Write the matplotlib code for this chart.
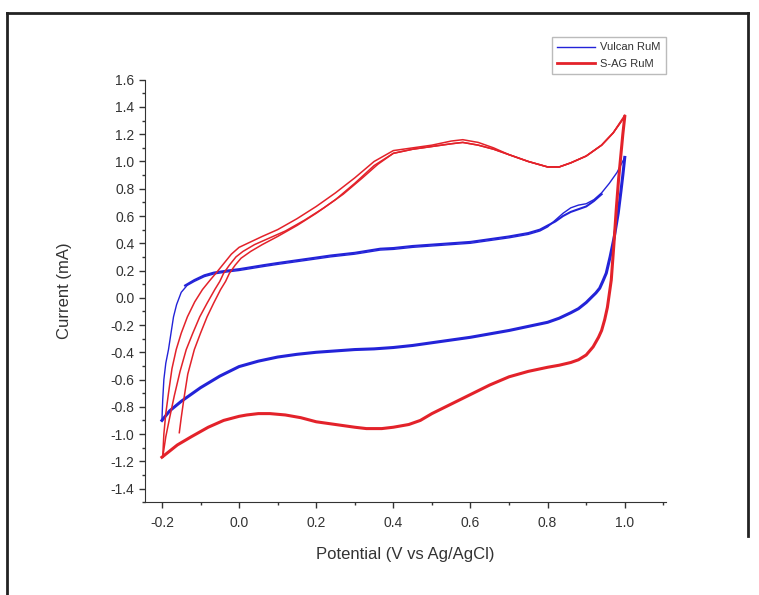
import matplotlib.pyplot as plt
from matplotlib.lines import Line2D
from matplotlib.ticker import MultipleLocator

plt.rcParams['font.family'] = ['Liberation Sans', 'DejaVu Sans']

# Vulcan RuM (blue) - anodic sweep, potential (V) and current (mA)
vulcan_an_v = [-0.200, -0.198, -0.195, -0.190, -0.183, -0.176, -0.170, -0.162, -0.150, -0.135,
               -0.116, -0.090, -0.065, -0.030, 0.000, 0.065, 0.100, 0.150, 0.200, 0.237,
               0.300, 0.366, 0.400, 0.450, 0.500, 0.550, 0.600, 0.650, 0.700, 0.750,
               0.780, 0.800, 0.820, 0.840, 0.860, 0.880, 0.900, 0.920, 0.940, 0.960,
               0.980, 1.000]
vulcan_an_i = [-0.90, -0.75, -0.60, -0.48, -0.38, -0.25, -0.14, -0.05, 0.04, 0.09,
               0.12, 0.155, 0.175, 0.19, 0.20, 0.23, 0.245, 0.265, 0.285, 0.30,
               0.32, 0.35, 0.355, 0.37, 0.38, 0.39, 0.40, 0.42, 0.44, 0.465,
               0.49, 0.52, 0.57, 0.62, 0.66, 0.68, 0.69, 0.72, 0.77, 0.84,
               0.92, 1.03]
# second anodic sweep (slightly offset, different hump near 0.85 V)
vulcan_an2_v = [-0.140, -0.116, -0.090, -0.065, -0.030, 0.000, 0.065, 0.100, 0.150, 0.200,
                0.237, 0.300, 0.366, 0.400, 0.450, 0.500, 0.550, 0.600, 0.650, 0.700,
                0.750, 0.780, 0.800, 0.820, 0.840, 0.860, 0.880, 0.900, 0.920, 0.940]
vulcan_an2_i = [0.09, 0.13, 0.165, 0.185, 0.20, 0.21, 0.24, 0.255, 0.275, 0.295,
                0.31, 0.33, 0.36, 0.365, 0.38, 0.39, 0.40, 0.41, 0.43, 0.45,
                0.475, 0.50, 0.53, 0.56, 0.60, 0.63, 0.65, 0.67, 0.71, 0.76]
# cathodic sweep
vulcan_ca_v = [1.000, 0.995, 0.990, 0.983, 0.973, 0.962, 0.952, 0.943, 0.935, 0.925,
               0.916, 0.900, 0.880, 0.860, 0.830, 0.800, 0.750, 0.700, 0.650, 0.600,
               0.550, 0.500, 0.450, 0.400, 0.350, 0.300, 0.250, 0.200, 0.150, 0.100,
               0.050, 0.000, -0.050, -0.100, -0.150, -0.180, -0.200]
vulcan_ca_i = [1.03, 0.90, 0.78, 0.62, 0.45, 0.30, 0.18, 0.12, 0.07, 0.035,
               0.01, -0.035, -0.08, -0.11, -0.15, -0.18, -0.21, -0.24, -0.265, -0.29,
               -0.31, -0.33, -0.35, -0.365, -0.375, -0.38, -0.39, -0.40, -0.415, -0.435,
               -0.465, -0.505, -0.575, -0.66, -0.76, -0.83, -0.90]

# S-AG RuM (red) - three anodic sweeps
sag_an1_v = [-0.155, -0.150, -0.143, -0.133, -0.116, -0.100, -0.083, -0.066, -0.048, -0.035,
             -0.025, -0.010, 0.005, 0.030, 0.060, 0.100, 0.150, 0.200, 0.250, 0.300,
             0.350, 0.400, 0.450, 0.500, 0.550, 0.580, 0.620, 0.660, 0.700, 0.750,
             0.800, 0.830, 0.860, 0.900, 0.940, 0.970, 1.000]
sag_an1_i = [-0.99, -0.88, -0.74, -0.56, -0.38, -0.26, -0.14, -0.04, 0.06, 0.12,
             0.18, 0.24, 0.29, 0.34, 0.39, 0.45, 0.53, 0.62, 0.72, 0.84,
             0.97, 1.06, 1.09, 1.11, 1.13, 1.14, 1.12, 1.09, 1.05, 1.00,
             0.96, 0.96, 0.99, 1.04, 1.12, 1.21, 1.33]
sag_an2_v = [-0.198, -0.190, -0.180, -0.168, -0.153, -0.137, -0.120, -0.102, -0.083, -0.063,
             -0.050, -0.040, -0.025, -0.008, 0.010, 0.040, 0.080, 0.120, 0.170, 0.220,
             0.270, 0.320, 0.360, 0.400, 0.450, 0.500, 0.550, 0.580, 0.620, 0.660,
             0.700, 0.750, 0.800, 0.830, 0.860, 0.900, 0.940, 0.970, 1.000]
sag_an2_i = [-1.17, -1.02, -0.88, -0.72, -0.54, -0.38, -0.26, -0.14, -0.04, 0.06,
             0.12, 0.18, 0.24, 0.30, 0.34, 0.39, 0.44, 0.49, 0.57, 0.66,
             0.76, 0.88, 0.98, 1.06, 1.09, 1.11, 1.13, 1.14, 1.12, 1.09,
             1.05, 1.00, 0.96, 0.96, 0.99, 1.04, 1.12, 1.21, 1.33]
sag_an3_v = [-0.198, -0.195, -0.190, -0.183, -0.174, -0.163, -0.150, -0.134, -0.115, -0.095,
             -0.075, -0.060, -0.040, -0.020, 0.000, 0.030, 0.060, 0.100, 0.150, 0.200,
             0.250, 0.300, 0.350, 0.400, 0.450, 0.500, 0.550, 0.580, 0.620, 0.660,
             0.700, 0.750, 0.800, 0.830, 0.860, 0.900, 0.940, 0.970, 1.000]
sag_an3_i = [-1.17, -1.00, -0.85, -0.70, -0.52, -0.38, -0.26, -0.14, -0.03, 0.06,
             0.13, 0.18, 0.25, 0.32, 0.37, 0.41, 0.45, 0.50, 0.58, 0.67,
             0.77, 0.88, 1.00, 1.08, 1.10, 1.12, 1.15, 1.16, 1.14, 1.10,
             1.05, 1.00, 0.96, 0.96, 0.99, 1.04, 1.12, 1.21, 1.34]
# cathodic sweep
sag_ca_v = [1.000, 0.995, 0.990, 0.984, 0.978, 0.972, 0.965, 0.955, 0.948, 0.940,
            0.932, 0.918, 0.900, 0.880, 0.860, 0.830, 0.800, 0.750, 0.700, 0.650,
            0.600, 0.550, 0.500, 0.470, 0.440, 0.400, 0.370, 0.330, 0.300, 0.250,
            0.200, 0.160, 0.120, 0.080, 0.050, 0.020, 0.000, -0.040, -0.080, -0.124,
            -0.160, -0.200]
sag_ca_i = [1.33, 1.20, 1.05, 0.87, 0.65, 0.40, 0.13, -0.07, -0.16, -0.24,
            -0.29, -0.36, -0.42, -0.455, -0.475, -0.495, -0.51, -0.54, -0.58, -0.64,
            -0.71, -0.78, -0.85, -0.90, -0.93, -0.95, -0.96, -0.96, -0.95, -0.93,
            -0.91, -0.88, -0.86, -0.85, -0.85, -0.86, -0.87, -0.90, -0.95, -1.02,
            -1.08, -1.17]

blue = '#2323d8'
red = '#e3222a'

fig = plt.figure(figsize=(7.59, 5.95), dpi=100)
ax = fig.add_axes([0.191, 0.156, 0.686, 0.710])

ax.plot(vulcan_an_v, vulcan_an_i, color=blue, lw=1.0)
ax.plot(vulcan_an2_v, vulcan_an2_i, color=blue, lw=1.5)
ax.plot(vulcan_ca_v, vulcan_ca_i, color=blue, lw=2.2)

ax.plot(sag_an1_v, sag_an1_i, color=red, lw=1.1)
ax.plot(sag_an2_v, sag_an2_i, color=red, lw=1.1)
ax.plot(sag_an3_v, sag_an3_i, color=red, lw=1.1)
ax.plot(sag_ca_v, sag_ca_i, color=red, lw=2.2)

ax.set_xlim(-0.244, 1.106)
ax.set_ylim(-1.5, 1.6)
ax.xaxis.set_major_locator(MultipleLocator(0.2))
ax.xaxis.set_minor_locator(MultipleLocator(0.1))
ax.yaxis.set_major_locator(MultipleLocator(0.2))
ax.yaxis.set_minor_locator(MultipleLocator(0.1))
ax.xaxis.set_major_formatter(lambda v, p: f'{v:.1f}')
ax.yaxis.set_major_formatter(lambda v, p: f'{v:.1f}')
ax.tick_params(which='major', direction='out', length=4, width=1, labelsize=10, colors='#333333')
ax.tick_params(axis='x', which='major', pad=6)
ax.tick_params(which='minor', direction='out', length=2.5, width=1, colors='#333333')

ax.spines['top'].set_visible(False)
ax.spines['right'].set_visible(False)
ax.spines['left'].set_color('#333333')
ax.spines['bottom'].set_color('#333333')

ax.set_xlabel('Potential (V vs Ag/AgCl)', fontsize=12, color='#333333', labelpad=12)
ax.set_ylabel('Current (mA)', fontsize=12, color='#333333', labelpad=28)

handles = [Line2D([], [], color=blue, lw=1.0), Line2D([], [], color=red, lw=2.0)]
fig.legend(handles, ['Vulcan RuM', 'S-AG RuM'], loc='upper left',
           bbox_to_anchor=(0.727, 0.938), borderaxespad=0, fontsize=8, frameon=True,
           fancybox=False, edgecolor='#aaaaaa', handlelength=3.4, handletextpad=0.4,
           borderpad=0.5, labelspacing=0.55, labelcolor='#333333')

# figure border
fig.add_artist(Line2D([0.009, 0.009], [0.0, 0.978], color='#222222', lw=2))
fig.add_artist(Line2D([0.009, 0.986], [0.978, 0.978], color='#222222', lw=2))
fig.add_artist(Line2D([0.986, 0.986], [0.10, 0.978], color='#222222', lw=2))

fig.savefig('out.png', dpi=100)
